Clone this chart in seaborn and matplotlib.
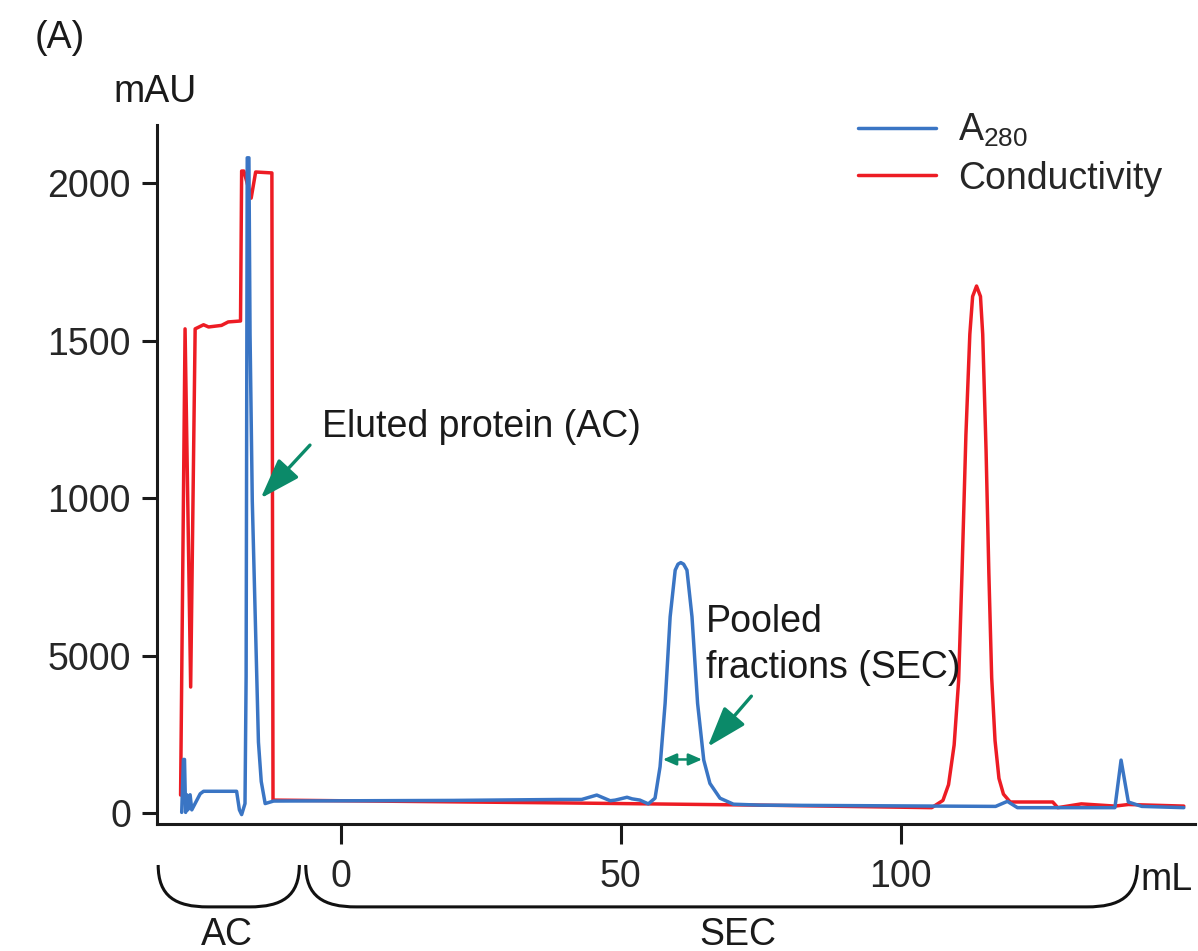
import numpy as np
import pandas as pd
import matplotlib
matplotlib.use('Agg')
import matplotlib.pyplot as plt
from matplotlib.path import Path
from matplotlib.patches import PathPatch
import seaborn as sns

# A280 trace (mL, mAU)
a280_ml = [-28.4, -28.1, -27.9, -27.7, -27.5, -27.3, -26.9, -26.6, -25.1, -24.5,
           -18.6, -18.1, -17.7, -17.1, -16.9, -16.7, -16.4, -16.2, -15.8, -15.4,
           -15.0, -14.7, -14.2, -13.5, -12.0, 20.0, 39.2, 43.0, 45.7, 48.1,
           49.0, 51.1, 52.0, 53.4, 54.9, 56.1, 57.0, 57.9, 58.8, 59.7,
           60.2, 60.7, 61.2, 61.8, 62.7, 63.7, 64.8, 65.9, 67.7, 70.1,
           74.9, 116.9, 119.0, 120.8, 138.2, 139.3, 140.6, 143.0, 150.5]
a280_mau = [2, 170, 170, 2, 58, 10, 58, 10, 61, 69,
            69, 10, -5, 30, 434, 2080, 2080, 1520, 991, 712,
            434, 225, 100, 30, 38, 40, 43, 43, 57, 39,
            41, 50, 45, 41, 29, 47, 147, 348, 623, 771,
            790, 795, 790, 771, 623, 348, 168, 94, 47, 28,
            25, 21, 37, 17, 17, 168, 35, 21, 17]

# conductivity trace
cond_ml = [-28.6, -27.8, -26.8, -26.0, -24.5, -23.6, -21.3, -20.1, -17.9, -17.7,
           -17.3, -16.0, -15.2, -12.3, -12.1, 40.0, 75.0, 105.5, 107.5, 108.5,
           109.5, 110.3, 110.9, 111.6, 112.3, 112.8, 113.5, 114.2, 114.6, 115.2,
           115.7, 116.2, 116.8, 117.5, 118.3, 119.5, 127.1, 128.0, 132.2, 138.2,
           140.6, 150.5]
cond_mau = [57, 1537, 400, 1537, 1550, 1543, 1548, 1559, 1562, 2038,
            2038, 1952, 2035, 2032, 41, 32, 25, 17, 40, 90,
            216, 420, 760, 1200, 1520, 1640, 1673, 1640, 1520, 1150,
            760, 430, 230, 110, 60, 35, 35, 17, 29, 22,
            27, 22]

ytick_vals = [0, 500, 1000, 1500, 2000]
ytick_labels = ['0', '5000', '1000', '1500', '2000']
xtick_vals = [0, 50, 100]
xtick_labels = ['0', '50', '100']

blue = '#3a75c4'
red = '#ed1c24'
green = '#0b8a69'

sns.set_style('ticks')
plt.rcParams['font.family'] = ['Liberation Sans', 'DejaVu Sans']
plt.rcParams['mathtext.fontset'] = 'custom'
plt.rcParams['mathtext.rm'] = 'Liberation Sans'

fig = plt.figure(figsize=(11.98, 9.51), dpi=100)
ax = fig.add_axes([0.1311, 0.1335, 0.8664, 0.735])

a280 = pd.DataFrame({'ml': a280_ml, 'mau': a280_mau})
cond = pd.DataFrame({'ml': cond_ml, 'mau': cond_mau})
sns.lineplot(data=cond, x='ml', y='mau', ax=ax, color=red, lw=2.5,
             estimator=None, sort=False, label='Conductivity')
sns.lineplot(data=a280, x='ml', y='mau', ax=ax, color=blue, lw=2.5,
             estimator=None, sort=False, label='A$_\\mathregular{280}$')

ax.set_xlim(-32.8, 152.5)
ax.set_ylim(-35, 2184)
ax.set_xlabel('')
ax.set_ylabel('')
sns.despine(ax=ax)
for s in ['left', 'bottom']:
    ax.spines[s].set_linewidth(2.2)
    ax.spines[s].set_color('#1a1a1a')

ax.set_yticks(ytick_vals)
ax.set_yticklabels(ytick_labels)
ax.set_xticks(xtick_vals)
ax.set_xticklabels(xtick_labels)
ax.tick_params(axis='y', length=10.8, width=2.2, pad=8, labelsize=27, color='#1a1a1a')
ax.tick_params(axis='x', length=14.4, width=2.2, pad=11, labelsize=27, color='#1a1a1a')

h, l = ax.get_legend_handles_labels()
ax.legend(h[::-1], l[::-1], loc='upper left', bbox_to_anchor=(858 / 1198, 1 - 112 / 951),
          bbox_transform=fig.transFigure, frameon=False, fontsize=27,
          handlelength=2.08, handletextpad=0.6, labelspacing=0.3,
          borderpad=0, borderaxespad=0)

# arrows and notes
ax.annotate('', xy=(-14.3, 999), xytext=(-5.5, 1168),
            arrowprops=dict(arrowstyle='-|>,head_length=2.5,head_width=0.85',
                            color=green, lw=2.4, shrinkA=0, shrinkB=0, mutation_scale=10))
ax.text(-3.4, 1194, 'Eluted protein (AC)', fontsize=27, color='#1a1a1a', va='baseline')

ax.annotate('', xy=(65.5, 210), xytext=(73.3, 371),
            arrowprops=dict(arrowstyle='-|>,head_length=2.5,head_width=0.85',
                            color=green, lw=2.4, shrinkA=0, shrinkB=0, mutation_scale=10))
ax.annotate('', xy=(57.5, 170), xytext=(64.5, 170),
            arrowprops=dict(arrowstyle='<|-|>,head_length=0.8,head_width=0.35',
                            color=green, lw=1.8, shrinkA=0, shrinkB=0, mutation_scale=10))
ax.text(65.2, 576, 'Pooled', fontsize=27, color='#1a1a1a', va='baseline')
ax.text(65.2, 428, 'fractions (SEC)', fontsize=27, color='#1a1a1a', va='baseline')

# braces under the axis
def brace(x0, x1, ytop, ybot, rx):
    verts = [(x0, ytop), (x0, ybot + (ytop - ybot) * 0.25), (x0 + rx * 0.35, ybot), (x0 + rx, ybot),
             (x1 - rx, ybot),
             (x1 - rx * 0.35, ybot), (x1, ybot + (ytop - ybot) * 0.25), (x1, ytop)]
    codes = [Path.MOVETO, Path.CURVE4, Path.CURVE4, Path.CURVE4, Path.LINETO,
             Path.CURVE4, Path.CURVE4, Path.CURVE4]
    ax.add_patch(PathPatch(Path(verts, codes), fill=False, lw=2.2, color='#111111',
                           clip_on=False))

brace(-32.6, -7.4, -165, -298, 8.9)
brace(-6.25, 142.2, -165, -298, 9.0)

ax.text(-20.3, -419, 'AC', fontsize=27, ha='center', va='baseline', color='#1a1a1a')
ax.text(70.8, -419, 'SEC', fontsize=27, ha='center', va='baseline', color='#1a1a1a')
ax.text(152.0, -244, 'mL', fontsize=27, ha='right', va='baseline', color='#1a1a1a')

fig.text(35 / 1198, 1 - 48 / 951, '(A)', fontsize=27, va='baseline', color='#1a1a1a')
fig.text(113 / 1198, 1 - 102 / 951, 'mAU', fontsize=27, va='baseline', color='#1a1a1a')

fig.savefig('out.png', dpi=100)
